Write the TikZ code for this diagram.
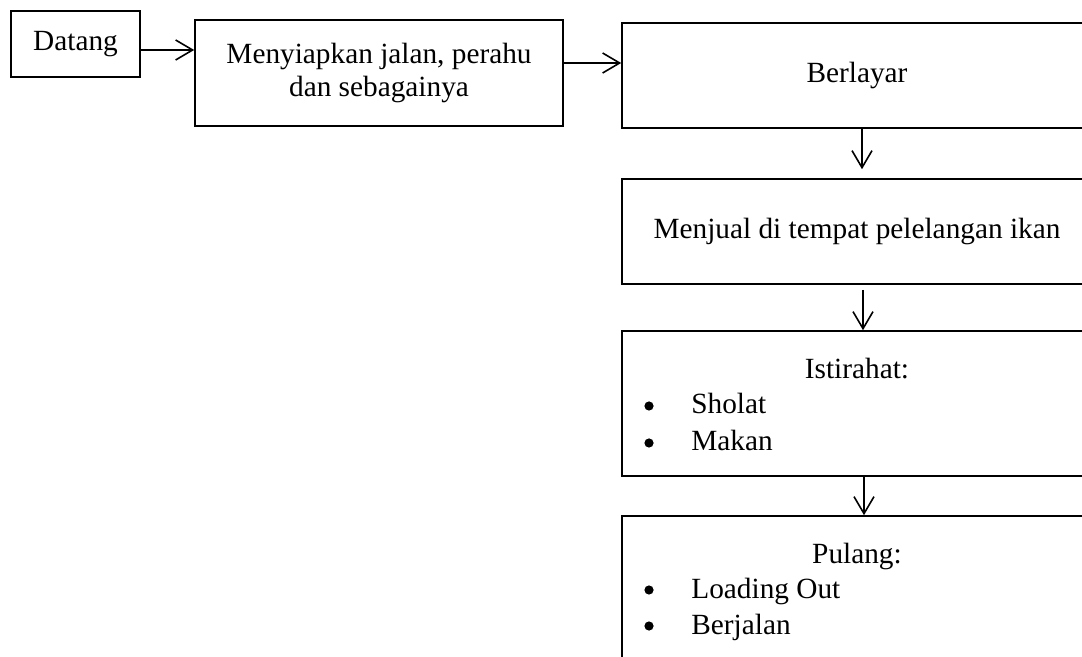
\documentclass[tikz,border=0pt]{standalone}
\usepackage{fontspec}
\setmainfont{Liberation Serif}
\usetikzlibrary{arrows.meta}
\begin{document}
\begin{tikzpicture}[x=0.5pt,y=-0.5pt,
  box/.style={draw, line width=0.8pt, inner sep=0pt, minimum width=#1},
  txt/.style={inner sep=0pt, anchor=base, font=\fontsize{14.65}{16.5}\selectfont},
  bul/.style={circle, fill, inner sep=0pt, minimum size=4.6pt},
  arr/.style={line width=0.8pt, -{Straight Barb[length=8.5pt,width=10pt,line width=0.8pt]}}
]
\useasboundingbox (0,0) rectangle (1082,657);
\clip (0,0) rectangle (1082,657);
\fill[white] (0,0) rectangle (1082,657);
% boxes
\node[box=64.5pt, minimum height=33pt, font=\fontsize{14.65}{16.5}\selectfont] (datang) at (75.5,44) {Datang};
\node[box=184pt, minimum height=53pt, align=center, font=\fontsize{14.65}{16.5}\selectfont] (siap) at (379,73) {Menyiapkan jalan, perahu\\dan sebagainya};
\node[box=235pt, minimum height=52.5pt, font=\fontsize{14.65}{16.5}\selectfont] (layar) at (857,75.5) {Berlayar};
\node[box=235pt, minimum height=52.5pt, font=\fontsize{14.65}{16.5}\selectfont] (jual) at (857,231.5) {Menjual di tempat pelelangan ikan};
\node[box=235pt, minimum height=72.5pt] (istirahat) at (857,403.5) {};
\node[box=235pt, minimum height=72.5pt] (pulang) at (857,588.5) {};
% list texts
\node[txt] (t1) at (857,379) {Istirahat:};
\node[bul] (b1) at (649,406) {};
\node[txt, anchor=base west] (s1) at (691,414) {Sholat};
\node[bul] (b2) at (649,443) {};
\node[txt, anchor=base west] (s2) at (691,451) {Makan};
\node[txt] (t2) at (857,563) {Pulang:};
\node[bul] (b3) at (649,590) {};
\node[txt, anchor=base west] (s3) at (691,598) {Loading Out};
\node[bul] (b4) at (649,626) {};
\node[txt, anchor=base west] (s4) at (691,634) {Berjalan};
% connectors
\draw[arr] ([yshift=-3pt]datang.east) -- ([yshift=-3pt]datang.east -| siap.west);
\draw[arr] ([yshift=5pt]siap.east) -- ([yshift=5pt]siap.east -| layar.west);
\draw[arr] ([xshift=2.5pt]layar.south) -- ([xshift=2.5pt,yshift=4.5pt]jual.north);
\draw[arr] ([xshift=3pt,yshift=-2.5pt]jual.south) -- ([xshift=3pt]istirahat.north);
\draw[arr] ([xshift=3.5pt]istirahat.south) -- ([xshift=3.5pt]pulang.north);
\end{tikzpicture}
\end{document}
